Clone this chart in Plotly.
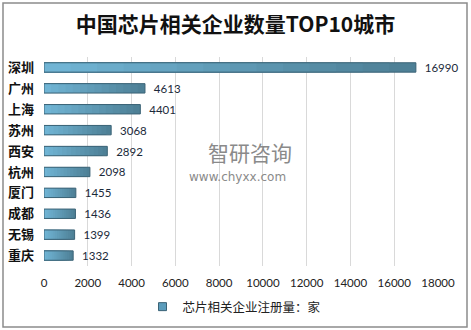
import plotly.graph_objects as go

cities = ["深圳", "广州", "上海", "苏州", "西安", "杭州", "厦门", "成都", "无锡", "重庆"]
counts = [16990, 4613, 4401, 3068, 2892, 2098, 1455, 1436, 1399, 1332]
series_name = "芯片相关企业注册量：家"
title_text = "中国芯片相关企业数量TOP10城市"
x_ticks = [0, 2000, 4000, 6000, 8000, 10000, 12000, 14000, 16000, 18000]

W, H = 471, 330
L, R, T, B = 44, 33, 57, 64
pw, ph = W - L - R, H - T - B

def px_x(p):
    return (p - L) / pw

def px_y(p):
    return (H - B - p) / ph

fig = go.Figure()

# gradient fill: overlapping bars, dark (right) to light (left)
dark = (78, 128, 150)
light = (112, 180, 212)
steps = 14
for i in range(steps):
    k = 1 - i / steps
    t = i / (steps - 1)
    c = tuple(round(dark[j] + (light[j] - dark[j]) * t) for j in range(3))
    fig.add_trace(go.Bar(
        y=cities, x=[v * k for v in counts], orientation="h",
        marker=dict(color="rgb(%d,%d,%d)" % c, line=dict(width=0)),
        showlegend=False, hoverinfo="skip",
    ))

fig.add_trace(go.Bar(
    y=cities, x=counts, orientation="h", name=series_name,
    marker=dict(color="rgba(0,0,0,0)", line=dict(color="#3b6376", width=1)),
    text=["\u00a0\u00a0" + str(v) for v in counts], textposition="outside", constraintext="none",
    textfont=dict(family="Lato, Open Sans, sans-serif", size=11.5, color="#1b2a3a"),
    cliponaxis=False, showlegend=False,
))
# legend entry
fig.add_trace(go.Scatter(
    y=[None], x=[None], mode="markers", name=series_name,
    marker=dict(symbol="square", size=8, color="#5b9cbb", line=dict(color="#3b6376", width=1)),
    showlegend=True,
))

fig.update_layout(
    width=W, height=H,
    margin=dict(l=L, r=R, t=T, b=B, autoexpand=False),
    paper_bgcolor="white", plot_bgcolor="white",
    barmode="overlay", bargap=0.55,
    title=dict(text="<b>" + title_text + "</b>", x=0.5, xanchor="center",
               y=1 - 25 / H, yanchor="middle",
               font=dict(family="Noto Sans CJK SC", size=21, color="#111")),
    font=dict(family="Noto Sans CJK SC"),
    xaxis=dict(range=[0, 18000], tickvals=x_ticks, ticktext=[str(v) for v in x_ticks],
               showgrid=True, gridcolor="#d9d9d9", gridwidth=1, zeroline=False,
               showline=False, ticks="", ticklabelstandoff=8, automargin=False,
               tickfont=dict(family="Lato, Open Sans, sans-serif", size=11.5, color="#222")),
    yaxis=dict(autorange="reversed", showgrid=False, zeroline=False, showline=False,
               ticks="", ticklabelstandoff=9, automargin=False,
               tickfont=dict(family="Noto Sans CJK SC", size=13, color="#111", weight="bold")),
    legend=dict(orientation="h", x=px_x(234), xanchor="center", y=px_y(307), yanchor="middle",
                font=dict(family="Noto Sans CJK SC", size=12.5, color="#222"),
                itemwidth=30),
    shapes=[dict(type="rect", xref="paper", yref="paper",
                 x0=px_x(3), x1=px_x(467), y0=px_y(327), y1=px_y(3),
                 line=dict(color="#8c8c8c", width=1.5), layer="below")],
    annotations=[
        dict(text="智研咨询", xref="paper", yref="paper", x=px_x(250), y=px_y(152),
             showarrow=False, font=dict(family="Noto Sans CJK SC", size=21, color="#8a8a8a")),
        dict(text="www.chyxx.com", xref="paper", yref="paper", x=px_x(237), y=px_y(177),
             showarrow=False, font=dict(family="DejaVu Sans", size=12, color="#8a8a8a")),
    ],
)

fig.write_html("out.html")
